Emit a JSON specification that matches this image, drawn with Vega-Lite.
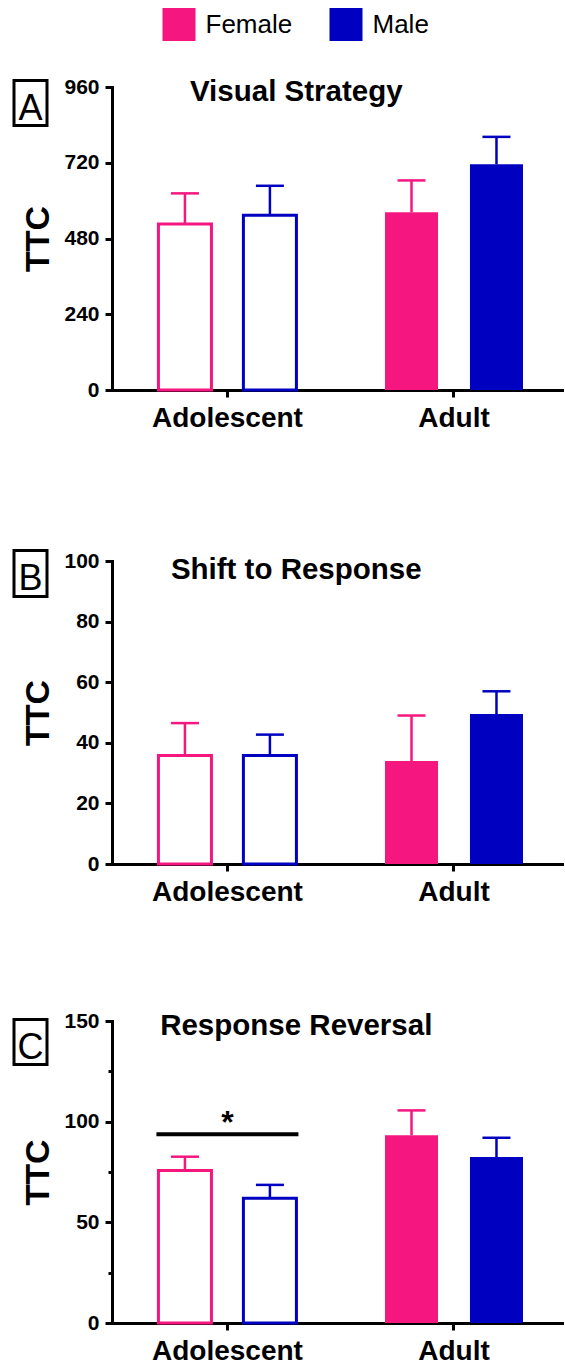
{
  "$schema": "https://vega.github.io/schema/vega-lite/v6.json",
  "autosize": {"type": "pad"},
  "padding": {"left": 12, "top": 8, "right": 0, "bottom": 0},
  "datasets": {
    "bars": [
      {"panel": "A", "age": "Adolescent", "sex": "Female", "mean": 526, "upper": 623},
      {"panel": "A", "age": "Adolescent", "sex": "Male", "mean": 554, "upper": 647},
      {"panel": "A", "age": "Adult", "sex": "Female", "mean": 563, "upper": 664},
      {"panel": "A", "age": "Adult", "sex": "Male", "mean": 715, "upper": 802},
      {"panel": "B", "age": "Adolescent", "sex": "Female", "mean": 35.8, "upper": 46.5},
      {"panel": "B", "age": "Adolescent", "sex": "Male", "mean": 35.8, "upper": 42.7},
      {"panel": "B", "age": "Adult", "sex": "Female", "mean": 34, "upper": 49},
      {"panel": "B", "age": "Adult", "sex": "Male", "mean": 49.5, "upper": 57},
      {"panel": "C", "age": "Adolescent", "sex": "Female", "mean": 75.8, "upper": 82.6},
      {"panel": "C", "age": "Adolescent", "sex": "Male", "mean": 61.9, "upper": 68.6},
      {"panel": "C", "age": "Adult", "sex": "Female", "mean": 93.2, "upper": 105.6},
      {"panel": "C", "age": "Adult", "sex": "Male", "mean": 82.4, "upper": 92}
    ]
  },
  "spacing": 117,
  "vconcat": [
    {
      "width": 452, "height": 303,
      "title": {"text": "Visual Strategy", "frame": "bounds", "anchor": "middle", "offset": -31, "dx": 8, "fontSize": 29.5, "fontWeight": "bold", "font": "Liberation Sans", "color": "black"},
      "layer": [
        {"data": {"name": "bars"}, "transform": [{"filter": "datum.panel === 'A' && datum.age === 'Adult'"}],
         "mark": {"type": "bar", "opacity": 1},
         "encoding": {
           "x": {"field": "age", "type": "nominal", "sort": ["Adolescent", "Adult"], "scale": {"paddingInner": 0.391, "paddingOuter": 0.193, "align": 0.531}, "axis": {"title": null}},
           "xOffset": {"field": "sex", "type": "nominal", "sort": ["Female", "Male"], "scale": {"paddingInner": 0.376, "paddingOuter": 0}},
           "y": {"field": "mean", "type": "quantitative", "title": "TTC", "scale": {"domain": [0, 960], "nice": false},
                 "axis": {"values": [0, 120, 240, 360, 480, 600, 720, 840, 960], "labelExpr": "datum.value % 240 === 0 ? datum.label : ''", "tickSize": {"condition": {"test": "datum.value % 240 === 0", "value": 7}, "value": 4}}},
           "color": {"field": "sex", "type": "nominal", "title": null, "scale": {"domain": ["Female", "Male"], "range": ["#F5177F", "#0000C0"]},
                     "legend": {"orient": "none", "legendX": 50.5, "legendY": -79, "direction": "horizontal", "title": null}}
         }},
        {"data": {"name": "bars"}, "transform": [{"filter": "datum.panel === 'A' && datum.age === 'Adolescent'"}],
         "mark": {"type": "bar", "filled": false, "strokeWidth": 3, "opacity": 1},
         "encoding": {
           "x": {"field": "age", "type": "nominal", "sort": ["Adolescent", "Adult"]},
           "xOffset": {"field": "sex", "type": "nominal", "sort": ["Female", "Male"]},
           "y": {"field": "mean", "type": "quantitative", "title": "TTC", "scale": {"domain": [0, 960], "nice": false}},
           "color": {"field": "sex", "type": "nominal", "title": null}
         }},
        {"data": {"name": "bars"}, "transform": [{"filter": "datum.panel === 'A'"}],
         "mark": {"type": "rule", "strokeWidth": 2.5, "opacity": 1},
         "encoding": {
           "x": {"field": "age", "type": "nominal", "sort": ["Adolescent", "Adult"]},
           "xOffset": {"field": "sex", "type": "nominal", "sort": ["Female", "Male"]},
           "y": {"field": "mean", "type": "quantitative", "title": "TTC", "scale": {"domain": [0, 960], "nice": false}},
           "y2": {"field": "upper"},
           "color": {"field": "sex", "type": "nominal", "title": null}
         }},
        {"data": {"name": "bars"}, "transform": [{"filter": "datum.panel === 'A'"}],
         "mark": {"type": "tick", "size": 28, "thickness": 2.5, "opacity": 1},
         "encoding": {
           "x": {"field": "age", "type": "nominal", "sort": ["Adolescent", "Adult"]},
           "xOffset": {"field": "sex", "type": "nominal", "sort": ["Female", "Male"]},
           "y": {"field": "upper", "type": "quantitative", "title": "TTC", "scale": {"domain": [0, 960], "nice": false}},
           "color": {"field": "sex", "type": "nominal", "title": null}
         }},
        {"data": {"values": [{"p": "A"}]},
         "mark": {"type": "rect", "filled": false, "stroke": "black", "strokeWidth": 3},
         "encoding": {"x": {"value": -98}, "x2": {"value": -65}, "y": {"value": -6.5}, "y2": {"value": 38.5}}},
        {"data": {"values": [{"p": "A"}]},
         "mark": {"type": "text", "fontSize": 36, "font": "Liberation Sans", "align": "center", "baseline": "alphabetic", "color": "black"},
         "encoding": {"text": {"field": "p"}, "x": {"value": -81.5}, "y": {"value": 33}}}
      ]
    },
    {
      "spacing": 104,
      "vconcat": [
        {
          "width": 452, "height": 303,
          "title": {"text": "Shift to Response", "frame": "bounds", "anchor": "middle", "offset": -36, "dx": 8, "fontSize": 29.5, "fontWeight": "bold", "font": "Liberation Sans", "color": "black"},
          "layer": [
            {"data": {"name": "bars"}, "transform": [{"filter": "datum.panel === 'B' && datum.age === 'Adult'"}],
             "mark": {"type": "bar", "opacity": 1},
             "encoding": {
               "x": {"field": "age", "type": "nominal", "sort": ["Adolescent", "Adult"], "scale": {"paddingInner": 0.391, "paddingOuter": 0.193, "align": 0.531}, "axis": {"title": null}},
               "xOffset": {"field": "sex", "type": "nominal", "sort": ["Female", "Male"], "scale": {"paddingInner": 0.376, "paddingOuter": 0}},
               "y": {"field": "mean", "type": "quantitative", "title": "TTC", "scale": {"domain": [0, 100], "nice": false},
                     "axis": {"values": [0, 10, 20, 30, 40, 50, 60, 70, 80, 90, 100], "labelExpr": "datum.value % 20 === 0 ? datum.label : ''", "tickSize": {"condition": {"test": "datum.value % 20 === 0", "value": 7}, "value": 4}}},
               "color": {"field": "sex", "type": "nominal", "title": null, "scale": {"domain": ["Female", "Male"], "range": ["#F5177F", "#0000C0"]}}
             }},
            {"data": {"name": "bars"}, "transform": [{"filter": "datum.panel === 'B' && datum.age === 'Adolescent'"}],
             "mark": {"type": "bar", "filled": false, "strokeWidth": 3, "opacity": 1},
             "encoding": {
               "x": {"field": "age", "type": "nominal", "sort": ["Adolescent", "Adult"]},
               "xOffset": {"field": "sex", "type": "nominal", "sort": ["Female", "Male"]},
               "y": {"field": "mean", "type": "quantitative", "title": "TTC", "scale": {"domain": [0, 100], "nice": false}},
               "color": {"field": "sex", "type": "nominal", "title": null}
             }},
            {"data": {"name": "bars"}, "transform": [{"filter": "datum.panel === 'B'"}],
             "mark": {"type": "rule", "strokeWidth": 2.5, "opacity": 1},
             "encoding": {
               "x": {"field": "age", "type": "nominal", "sort": ["Adolescent", "Adult"]},
               "xOffset": {"field": "sex", "type": "nominal", "sort": ["Female", "Male"]},
               "y": {"field": "mean", "type": "quantitative", "title": "TTC", "scale": {"domain": [0, 100], "nice": false}},
               "y2": {"field": "upper"},
               "color": {"field": "sex", "type": "nominal", "title": null}
             }},
            {"data": {"name": "bars"}, "transform": [{"filter": "datum.panel === 'B'"}],
             "mark": {"type": "tick", "size": 28, "thickness": 2.5, "opacity": 1},
             "encoding": {
               "x": {"field": "age", "type": "nominal", "sort": ["Adolescent", "Adult"]},
               "xOffset": {"field": "sex", "type": "nominal", "sort": ["Female", "Male"]},
               "y": {"field": "upper", "type": "quantitative", "title": "TTC", "scale": {"domain": [0, 100], "nice": false}},
               "color": {"field": "sex", "type": "nominal", "title": null}
             }},
            {"data": {"values": [{"p": "B"}]},
             "mark": {"type": "rect", "filled": false, "stroke": "black", "strokeWidth": 3},
             "encoding": {"x": {"value": -98}, "x2": {"value": -65}, "y": {"value": -10.5}, "y2": {"value": 35.5}}},
            {"data": {"values": [{"p": "B"}]},
             "mark": {"type": "text", "fontSize": 36, "font": "Liberation Sans", "align": "center", "baseline": "alphabetic", "color": "black"},
             "encoding": {"text": {"field": "p"}, "x": {"value": -81.5}, "y": {"value": 29}}}
          ]
        },
        {
          "width": 452, "height": 302,
          "title": {"text": "Response Reversal", "frame": "bounds", "anchor": "middle", "offset": -31, "dx": 8, "fontSize": 29.5, "fontWeight": "bold", "font": "Liberation Sans", "color": "black"},
          "layer": [
            {"data": {"name": "bars"}, "transform": [{"filter": "datum.panel === 'C' && datum.age === 'Adult'"}],
             "mark": {"type": "bar", "opacity": 1},
             "encoding": {
               "x": {"field": "age", "type": "nominal", "sort": ["Adolescent", "Adult"], "scale": {"paddingInner": 0.391, "paddingOuter": 0.193, "align": 0.531}, "axis": {"title": null}},
               "xOffset": {"field": "sex", "type": "nominal", "sort": ["Female", "Male"], "scale": {"paddingInner": 0.376, "paddingOuter": 0}},
               "y": {"field": "mean", "type": "quantitative", "title": "TTC", "scale": {"domain": [0, 150], "nice": false},
                     "axis": {"values": [0, 25, 50, 75, 100, 125, 150], "labelExpr": "datum.value % 50 === 0 ? datum.label : ''", "tickSize": {"condition": {"test": "datum.value % 50 === 0", "value": 7}, "value": 4}}},
               "color": {"field": "sex", "type": "nominal", "title": null, "scale": {"domain": ["Female", "Male"], "range": ["#F5177F", "#0000C0"]}}
             }},
            {"data": {"name": "bars"}, "transform": [{"filter": "datum.panel === 'C' && datum.age === 'Adolescent'"}],
             "mark": {"type": "bar", "filled": false, "strokeWidth": 3, "opacity": 1},
             "encoding": {
               "x": {"field": "age", "type": "nominal", "sort": ["Adolescent", "Adult"]},
               "xOffset": {"field": "sex", "type": "nominal", "sort": ["Female", "Male"]},
               "y": {"field": "mean", "type": "quantitative", "title": "TTC", "scale": {"domain": [0, 150], "nice": false}},
               "color": {"field": "sex", "type": "nominal", "title": null}
             }},
            {"data": {"name": "bars"}, "transform": [{"filter": "datum.panel === 'C'"}],
             "mark": {"type": "rule", "strokeWidth": 2.5, "opacity": 1},
             "encoding": {
               "x": {"field": "age", "type": "nominal", "sort": ["Adolescent", "Adult"]},
               "xOffset": {"field": "sex", "type": "nominal", "sort": ["Female", "Male"]},
               "y": {"field": "mean", "type": "quantitative", "title": "TTC", "scale": {"domain": [0, 150], "nice": false}},
               "y2": {"field": "upper"},
               "color": {"field": "sex", "type": "nominal", "title": null}
             }},
            {"data": {"name": "bars"}, "transform": [{"filter": "datum.panel === 'C'"}],
             "mark": {"type": "tick", "size": 28, "thickness": 2.5, "opacity": 1},
             "encoding": {
               "x": {"field": "age", "type": "nominal", "sort": ["Adolescent", "Adult"]},
               "xOffset": {"field": "sex", "type": "nominal", "sort": ["Female", "Male"]},
               "y": {"field": "upper", "type": "quantitative", "title": "TTC", "scale": {"domain": [0, 150], "nice": false}},
               "color": {"field": "sex", "type": "nominal", "title": null}
             }},
            {"data": {"values": [{"age": "Adolescent", "line": 93.7, "star": "*", "ystar": 94.6}]},
             "mark": {"type": "tick", "size": 142, "thickness": 4, "color": "black", "opacity": 1},
             "encoding": {
               "x": {"field": "age", "type": "nominal", "sort": ["Adolescent", "Adult"]},
               "y": {"field": "line", "type": "quantitative", "title": "TTC", "scale": {"domain": [0, 150], "nice": false}}
             }},
            {"data": {"values": [{"age": "Adolescent", "line": 93.7, "star": "*", "ystar": 94.6}]},
             "mark": {"type": "text", "fontSize": 32, "fontWeight": "bold", "font": "Liberation Sans", "align": "center", "baseline": "alphabetic", "color": "black"},
             "encoding": {
               "x": {"field": "age", "type": "nominal", "sort": ["Adolescent", "Adult"]},
               "y": {"field": "ystar", "type": "quantitative", "title": "TTC", "scale": {"domain": [0, 150], "nice": false}},
               "text": {"field": "star"}
             }},
            {"data": {"values": [{"p": "C"}]},
             "mark": {"type": "rect", "filled": false, "stroke": "black", "strokeWidth": 3},
             "encoding": {"x": {"value": -98}, "x2": {"value": -65}, "y": {"value": -1.5}, "y2": {"value": 43.5}}},
            {"data": {"values": [{"p": "C"}]},
             "mark": {"type": "text", "fontSize": 36, "font": "Liberation Sans", "align": "center", "baseline": "alphabetic", "color": "black"},
             "encoding": {"text": {"field": "p"}, "x": {"value": -81.5}, "y": {"value": 38}}}
          ]
        }
      ]
    }
  ],
  "config": {
    "view": {"stroke": null},
    "font": "Liberation Sans",
    "axis": {"domainColor": "black", "tickColor": "black", "labelColor": "black", "titleColor": "black", "grid": false,
             "labelFont": "Liberation Sans", "titleFont": "Liberation Sans", "domainWidth": 3, "tickWidth": 3,
             "labelFontWeight": "bold", "titleFontWeight": "bold", "labelFlush": false, "labelOverlap": false, "domainCap": "square"},
    "axisX": {"tickSize": 7, "labelFontSize": 28, "labelPadding": 29, "labelBaseline": "alphabetic", "labelAngle": 0},
    "axisY": {"labelFontSize": 21, "labelPadding": 6, "titleFontSize": 34, "titlePadding": 8},
    "legend": {"symbolType": "square", "symbolSize": 1089, "symbolStrokeWidth": 0,
               "labelFontSize": 26, "labelFont": "Liberation Sans", "labelColor": "black", "labelOffset": 10, "columnPadding": 37}
  }
}
